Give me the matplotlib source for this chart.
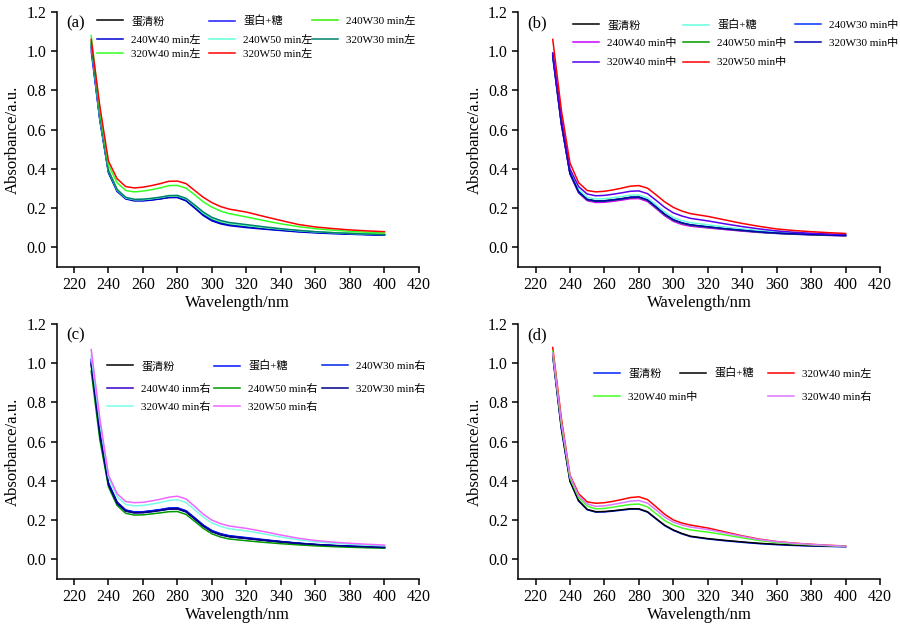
import matplotlib
matplotlib.use("Agg")
import matplotlib.pyplot as plt

plt.rcParams['font.family'] = ['Liberation Serif', 'Noto Sans CJK SC']
plt.rcParams['axes.unicode_minus'] = False

## wavelength grid [nm]
wl = [230, 235, 240, 245, 250, 255, 260, 265, 270, 275, 280, 285, 290, 295,
      300, 305, 310, 320, 330, 340, 350, 360, 370, 380, 390, 400]

## (a) left
a_labels = ['蛋清粉', '蛋白+糖', '240W30 min左', '240W40 min左', '240W50 min左',
            '320W30 min左', '320W40 min左', '320W50 min左']
a_colors = ['#000000', '#1a1aff', '#33ee00', '#0000cc', '#66ffd9', '#00806a', '#33ff22', '#ff0000']
a_vals = [
    [1.03, 0.66, 0.39, 0.29, 0.25, 0.24, 0.24, 0.243, 0.248, 0.255, 0.256, 0.24, 0.205, 0.168,
     0.142, 0.127, 0.118, 0.108, 0.098, 0.089, 0.082, 0.077, 0.073, 0.07, 0.067, 0.065],
    [1.0, 0.65, 0.385, 0.29, 0.25, 0.24, 0.24, 0.244, 0.25, 0.257, 0.258, 0.242, 0.206, 0.168,
     0.14, 0.124, 0.115, 0.105, 0.096, 0.088, 0.081, 0.076, 0.072, 0.069, 0.066, 0.064],
    [1.05, 0.67, 0.395, 0.295, 0.252, 0.242, 0.242, 0.246, 0.252, 0.26, 0.262, 0.246, 0.211, 0.174,
     0.147, 0.131, 0.121, 0.111, 0.101, 0.092, 0.085, 0.079, 0.075, 0.072, 0.069, 0.067],
    [1.02, 0.65, 0.38, 0.285, 0.247, 0.237, 0.237, 0.241, 0.247, 0.254, 0.254, 0.237, 0.2, 0.162,
     0.135, 0.12, 0.111, 0.101, 0.093, 0.086, 0.079, 0.074, 0.07, 0.067, 0.064, 0.062],
    [1.03, 0.66, 0.39, 0.292, 0.252, 0.243, 0.243, 0.248, 0.254, 0.262, 0.263, 0.248, 0.213, 0.176,
     0.149, 0.133, 0.123, 0.112, 0.102, 0.093, 0.085, 0.079, 0.075, 0.071, 0.068, 0.066],
    [1.04, 0.67, 0.39, 0.295, 0.255, 0.245, 0.246, 0.25, 0.256, 0.264, 0.265, 0.25, 0.216, 0.18,
     0.153, 0.137, 0.127, 0.116, 0.105, 0.095, 0.087, 0.08, 0.075, 0.071, 0.068, 0.065],
    [1.08, 0.7, 0.42, 0.33, 0.29, 0.283, 0.287, 0.294, 0.303, 0.315, 0.316, 0.302, 0.268, 0.232,
     0.205, 0.185, 0.172, 0.155, 0.137, 0.12, 0.106, 0.095, 0.088, 0.082, 0.077, 0.073],
    [1.06, 0.72, 0.44, 0.35, 0.31, 0.303, 0.307, 0.315, 0.325, 0.337, 0.338, 0.325, 0.29, 0.255,
     0.228, 0.208, 0.195, 0.18, 0.158, 0.137, 0.117, 0.104, 0.096, 0.089, 0.084, 0.08],
]

## (b) middle
b_labels = ['蛋清粉', '蛋白+糖', '240W30 min中', '240W40 min中', '240W50 min中',
            '320W30 min中', '320W40 min中', '320W50 min中']
b_colors = ['#000000', '#66ffdd', '#0033ff', '#cc00ff', '#009900', '#0000bb', '#5500ee', '#ff0000']
b_vals = [
    [0.98, 0.63, 0.38, 0.285, 0.245, 0.237, 0.238, 0.242, 0.248, 0.255, 0.256, 0.241, 0.205, 0.168,
     0.14, 0.124, 0.114, 0.104, 0.095, 0.086, 0.078, 0.073, 0.069, 0.066, 0.063, 0.061],
    [0.98, 0.64, 0.39, 0.295, 0.255, 0.247, 0.248, 0.253, 0.259, 0.266, 0.267, 0.252, 0.217, 0.18,
     0.152, 0.136, 0.126, 0.115, 0.104, 0.094, 0.085, 0.078, 0.073, 0.069, 0.066, 0.063],
    [0.97, 0.63, 0.375, 0.28, 0.242, 0.234, 0.235, 0.24, 0.246, 0.253, 0.254, 0.239, 0.203, 0.166,
     0.138, 0.122, 0.112, 0.102, 0.093, 0.085, 0.078, 0.072, 0.068, 0.065, 0.062, 0.06],
    [0.99, 0.63, 0.375, 0.278, 0.238, 0.229, 0.23, 0.235, 0.241, 0.248, 0.249, 0.234, 0.198, 0.161,
     0.133, 0.117, 0.108, 0.099, 0.091, 0.083, 0.076, 0.071, 0.067, 0.064, 0.061, 0.059],
    [0.99, 0.64, 0.38, 0.282, 0.243, 0.235, 0.236, 0.241, 0.247, 0.254, 0.255, 0.24, 0.204, 0.167,
     0.139, 0.123, 0.113, 0.103, 0.094, 0.086, 0.078, 0.072, 0.068, 0.065, 0.062, 0.06],
    [0.98, 0.635, 0.378, 0.283, 0.244, 0.236, 0.237, 0.242, 0.248, 0.255, 0.257, 0.242, 0.206, 0.169,
     0.141, 0.125, 0.115, 0.105, 0.095, 0.087, 0.079, 0.073, 0.069, 0.066, 0.063, 0.061],
    [0.99, 0.66, 0.4, 0.31, 0.272, 0.263, 0.265, 0.271, 0.278, 0.286, 0.288, 0.274, 0.24, 0.204,
     0.176, 0.16, 0.148, 0.135, 0.12, 0.106, 0.094, 0.084, 0.077, 0.072, 0.068, 0.065],
    [1.06, 0.7, 0.43, 0.33, 0.29, 0.283, 0.286, 0.293, 0.302, 0.312, 0.315, 0.302, 0.268, 0.232,
     0.204, 0.185, 0.172, 0.158, 0.14, 0.122, 0.107, 0.094, 0.086, 0.08, 0.075, 0.071],
]

## (c) right
c_labels = ['蛋清粉', '蛋白+糖', '240W30 min右', '240W40 inm右', '240W50 min右',
            '320W30 min右', '320W40 min右', '320W50 min右']
c_colors = ['#000000', '#0011ff', '#0022ee', '#3300cc', '#009900', '#000088', '#77ffe6', '#ee66ff']
c_vals = [
    [1.0, 0.64, 0.385, 0.29, 0.25, 0.24, 0.241, 0.246, 0.252, 0.259, 0.26, 0.245, 0.209, 0.172,
     0.144, 0.128, 0.118, 0.108, 0.098, 0.089, 0.081, 0.075, 0.07, 0.067, 0.064, 0.061],
    [1.02, 0.65, 0.39, 0.292, 0.252, 0.242, 0.243, 0.248, 0.254, 0.262, 0.263, 0.248, 0.212, 0.175,
     0.147, 0.131, 0.121, 0.111, 0.101, 0.091, 0.083, 0.076, 0.071, 0.068, 0.065, 0.062],
    [1.01, 0.645, 0.387, 0.29, 0.25, 0.241, 0.242, 0.247, 0.253, 0.26, 0.261, 0.246, 0.21, 0.173,
     0.145, 0.129, 0.119, 0.109, 0.099, 0.09, 0.082, 0.075, 0.07, 0.067, 0.064, 0.061],
    [1.0, 0.64, 0.383, 0.287, 0.247, 0.238, 0.239, 0.244, 0.25, 0.257, 0.258, 0.243, 0.207, 0.17,
     0.142, 0.126, 0.116, 0.106, 0.097, 0.088, 0.08, 0.074, 0.069, 0.066, 0.063, 0.06],
    [0.96, 0.61, 0.37, 0.275, 0.235, 0.226, 0.227, 0.232, 0.237, 0.243, 0.244, 0.229, 0.194, 0.158,
     0.13, 0.114, 0.104, 0.095, 0.087, 0.08, 0.074, 0.069, 0.065, 0.062, 0.059, 0.057],
    [0.99, 0.635, 0.38, 0.285, 0.246, 0.237, 0.238, 0.243, 0.249, 0.256, 0.257, 0.242, 0.206, 0.169,
     0.141, 0.125, 0.116, 0.107, 0.098, 0.09, 0.082, 0.076, 0.071, 0.067, 0.064, 0.061],
    [1.04, 0.7, 0.42, 0.32, 0.28, 0.273, 0.275, 0.282, 0.29, 0.3, 0.304, 0.29, 0.253, 0.215,
     0.186, 0.168, 0.156, 0.145, 0.13, 0.114, 0.1, 0.09, 0.083, 0.077, 0.073, 0.069],
    [1.07, 0.72, 0.43, 0.335, 0.295, 0.289, 0.291, 0.298, 0.306, 0.317, 0.322, 0.308, 0.27, 0.23,
     0.2, 0.182, 0.17, 0.158, 0.142, 0.124, 0.108, 0.096, 0.088, 0.082, 0.077, 0.073],
]

## (d) 320W40 comparison
d_labels = ['蛋清粉', '蛋白+糖', '320W40 min左', '320W40 min中', '320W40 min右']
d_colors = ['#0022ff', '#000000', '#ff0000', '#44ff22', '#dd77ff']
d_vals = [
    [1.04, 0.665, 0.398, 0.298, 0.253, 0.241, 0.242, 0.246, 0.251, 0.256, 0.256, 0.241, 0.206, 0.172,
     0.148, 0.13, 0.116, 0.104, 0.095, 0.087, 0.08, 0.075, 0.071, 0.068, 0.066, 0.064],
    [1.04, 0.67, 0.4, 0.3, 0.255, 0.243, 0.244, 0.248, 0.253, 0.258, 0.258, 0.243, 0.208, 0.174,
     0.15, 0.132, 0.118, 0.106, 0.097, 0.089, 0.082, 0.077, 0.073, 0.07, 0.068, 0.066],
    [1.08, 0.72, 0.43, 0.335, 0.293, 0.286, 0.289, 0.296, 0.305, 0.315, 0.319, 0.305, 0.268, 0.23,
     0.201, 0.185, 0.175, 0.16, 0.14, 0.12, 0.103, 0.091, 0.083, 0.077, 0.072, 0.068],
    [1.06, 0.69, 0.415, 0.315, 0.272, 0.257, 0.26, 0.266, 0.273, 0.28, 0.282, 0.268, 0.233, 0.198,
     0.175, 0.16, 0.15, 0.139, 0.125, 0.11, 0.096, 0.086, 0.079, 0.074, 0.07, 0.066],
    [1.05, 0.7, 0.425, 0.325, 0.283, 0.27, 0.273, 0.28, 0.288, 0.297, 0.3, 0.287, 0.252, 0.216,
     0.19, 0.175, 0.165, 0.152, 0.135, 0.117, 0.101, 0.09, 0.082, 0.076, 0.071, 0.067],
]

W, H = 900, 626
fig = plt.figure(figsize=(9, 6.26), dpi=100)

def px_axes(l, t, r, b):
    return fig.add_axes([l / W, 1 - b / H, (r - l) / W, (b - t) / H])

# legend slots (handle left x, row centre y) in pixels, laid out like the original
a_slots = [(97, 21), (209, 21), (312, 21), (97, 40), (209, 40), (312, 40), (97, 53.5), (209, 53.5)]
b_slots = [(573, 25), (683, 25), (795, 25), (573, 43), (683, 43), (795, 43), (573, 62.5), (683, 62.5)]
c_slots = [(107, 366), (214, 366), (322, 366), (107, 389), (214, 389), (322, 389), (107, 407), (214, 407)]
d_slots = [(594, 373.5), (680, 373.5), (768, 373.5), (594, 397), (768, 397)]

panels = [
    ('(a)', a_labels, a_colors, a_vals, (56.7, 12, 419, 267), a_slots),
    ('(b)', b_labels, b_colors, b_vals, (518.3, 12, 880, 267), b_slots),
    ('(c)', c_labels, c_colors, c_vals, (56.7, 324, 419, 579), c_slots),
    ('(d)', d_labels, d_colors, d_vals, (518.3, 324, 880, 579), d_slots),
]

for tag, labels, colors, vals, box, slots in panels:
    ax = px_axes(*box)
    handles = []
    for lab, col, v in zip(labels, colors, vals):
        h, = ax.plot(wl, v, color=col, lw=1.1, label=lab)
        handles.append(h)
    ax.set_xlim(210, 420)
    ax.set_ylim(-0.1, 1.2)
    ax.set_xticks(range(220, 421, 20))
    ax.set_yticks([0.0, 0.2, 0.4, 0.6, 0.8, 1.0, 1.2])
    ax.set_yticklabels(['0.0', '0.2', '0.4', '0.6', '0.8', '1.0', '1.2'])
    ax.spines['top'].set_visible(False)
    ax.spines['right'].set_visible(False)
    for s in ['left', 'bottom']:
        ax.spines[s].set_linewidth(1.1)
    ax.tick_params(direction='out', length=4, width=1.1, labelsize=11.5)
    ax.set_xlabel('Wavelength/nm', fontsize=12, labelpad=1)
    ax.set_ylabel('Absorbance/a.u.', fontsize=12, labelpad=4)
    ax.text(0.025, 0.955, tag, transform=ax.transAxes, fontsize=12, va='center', ha='left')

    for h, lab, (sx, sy) in zip(handles, labels, slots):
        fig.legend([h], [lab], loc='center left', frameon=False,
                   bbox_to_anchor=(sx / W, 1 - sy / H), bbox_transform=fig.transFigure,
                   borderpad=0, borderaxespad=0, handlelength=2.3, handletextpad=0.8,
                   prop={'size': 8})

fig.savefig('out.png', dpi=100)
